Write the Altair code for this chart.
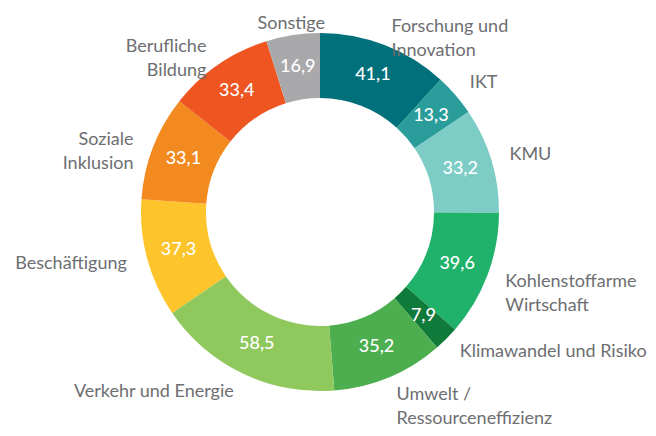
import altair as alt
import pandas as pd

categories = ["Forschung und\nInnovation", "IKT", "KMU", "Kohlenstoffarme\nWirtschaft",
              "Klimawandel und Risiko", "Umwelt /\nRessourceneffizienz", "Verkehr und Energie",
              "Beschäftigung", "Soziale\nInklusion", "Berufliche\nBildung", "Sonstige"]
values = [41.1, 13.3, 33.2, 39.6, 7.9, 35.2, 58.5, 37.3, 33.1, 33.4, 16.9]
colors = ["#00707a", "#2a9d9b", "#7dccc6", "#20b26b", "#0f7a3a", "#4cae4f",
          "#8fc85d", "#fdc42b", "#f28a1f", "#ee5521", "#a9a9ab"]

total = sum(values)
df = pd.DataFrame({
    "idx": list(range(len(values))),
    "cat": categories,
    "value": values,
    "vlabel": [f"{v:.1f}".replace(".", ",") for v in values],
})

FONT = "Lato"
CX, CY = 312, 204
R_OUT, R_IN = 179, 114

base = (
    alt.Chart(df)
    .transform_window(end="sum(value)", sort=[alt.SortField("idx")], frame=[None, 0])
    .transform_calculate(start="datum.end - datum.value",
                         mid="datum.end - datum.value / 2",
                         frac="(datum.end - datum.value / 2) / %f" % total)
)
tscale = alt.Scale(domain=[0, total])
cscale = alt.Scale(domain=categories, range=colors)

arcs = base.mark_arc(outerRadius=R_OUT, innerRadius=R_IN).encode(
    theta=alt.Theta("start:Q", scale=tscale),
    theta2="end:Q",
    color=alt.Color("cat:N", scale=cscale, legend=None),
    x=alt.value(CX), y=alt.value(CY),
)

vals = base.mark_text(radius=(R_OUT + R_IN) / 2, align="center", baseline="middle",
                      font=FONT, fontSize=18, fontWeight=500, color="white").encode(
    theta=alt.Theta("mid:Q", scale=tscale),
    text="vlabel:N",
    x=alt.value(CX), y=alt.value(CY),
)

def label_layer(cond, align, radius):
    return base.transform_filter(cond).mark_text(
        radius=radius, align=align, baseline="middle", lineBreak="\n",
        font=FONT, fontSize=18, color="#6d6e71", lineHeight=24).encode(
        theta=alt.Theta("mid:Q", scale=tscale),
        text="cat:N",
        x=alt.value(CX), y=alt.value(CY),
    )

lab_r = label_layer("datum.frac < 0.5", "left", 198)
lab_l = label_layer("datum.frac >= 0.5 && datum.frac < 0.95", "right", 200)
lab_c = label_layer("datum.frac >= 0.95", "center", 190)

chart = (
    alt.layer(arcs, vals, lab_r, lab_l, lab_c)
    .properties(width=640, height=420, padding=0, autosize=alt.AutoSizeParams(type="none"))
    .configure_view(stroke=None)
)

chart.save("out.html", embed_options={"renderer": "svg", "actions": False})
